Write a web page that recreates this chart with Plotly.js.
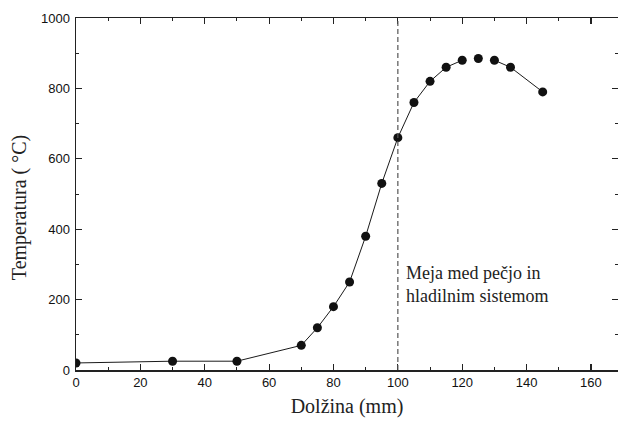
<!DOCTYPE html>
<html>
<head>
<meta charset="utf-8">
<script src="https://cdn.plot.ly/plotly-3.0.1.min.js"></script>
<style>html,body{margin:0;padding:0;background:#fff;}#chart{width:618px;height:421px;}</style>
</head>
<body>
<div id="chart"></div>
<script>
// Data
const lengthMm = [0, 30, 50, 70, 75, 80, 85, 90, 95, 100, 105, 110, 115, 120, 125, 130, 135, 145];
const temperatureC = [20, 25, 25, 70, 120, 180, 250, 380, 530, 660, 760, 820, 860, 880, 885, 880, 860, 790];
// Line drawn through the points, broken around the peak as in the reference
const lineTemperatureC = [20, 25, 25, 70, 120, 180, 250, 380, 530, 660, 760, 820, 860, 880, null, 880, 860, 790];
const boundaryX = 100;
const boundaryLabel = 'Meja med pečjo in<br>hladilnim sistemom';
const xTitle = 'Dolžina (mm)';
const yTitle = 'Temperatura ( °C)';

const serif = '"Liberation Serif", "Times New Roman", serif';
const sans = '"Liberation Sans", Arial, sans-serif';

const traces = [
  {
    x: lengthMm, y: lineTemperatureC, type: 'scatter', mode: 'lines',
    line: {color: '#1a1a1a', width: 1}, connectgaps: false, hoverinfo: 'skip'
  },
  {
    x: lengthMm, y: temperatureC, type: 'scatter', mode: 'markers',
    marker: {color: '#111', size: 9}
  }
];

const axisCommon = {
  showgrid: false, zeroline: false, showline: true, linecolor: '#222', linewidth: 1.5,
  ticks: 'inside', ticklen: 6, tickwidth: 1.2, tickcolor: '#222', mirror: 'ticks',
  tickfont: {family: sans, size: 13, color: '#111'}
};

const layout = {
  width: 618, height: 421,
  margin: {l: 76, r: 0, t: 18, b: 51},
  paper_bgcolor: '#fff', plot_bgcolor: '#fff',
  showlegend: false,
  xaxis: Object.assign({}, axisCommon, {
    range: [0, 168.4], tick0: 0, dtick: 20,
    minor: {ticks: 'inside', ticklen: 3, dtick: 10, tickcolor: '#222', tickwidth: 1},
    title: {text: xTitle, font: {family: serif, size: 20, color: '#222'}, standoff: 10}
  }),
  yaxis: Object.assign({}, axisCommon, {
    range: [0, 1000], tick0: 0, dtick: 200,
    minor: {ticks: 'inside', ticklen: 3, dtick: 100, tickcolor: '#222', tickwidth: 1},
    ticklabelstandoff: 2
  }),
  shapes: [{
    type: 'line', xref: 'x', yref: 'paper', x0: boundaryX, x1: boundaryX, y0: 0, y1: 1,
    line: {color: '#555', width: 1.2, dash: '5px,3px'}
  }],
  annotations: [
    {
      xref: 'x', yref: 'y', x: boundaryX + 2, y: 242, xanchor: 'left', yanchor: 'middle',
      text: boundaryLabel, showarrow: false, align: 'left',
      font: {family: serif, size: 18, color: '#222'}
    },
    {
      xref: 'paper', yref: 'paper', x: -0.105, y: 0.46, xanchor: 'center', yanchor: 'middle',
      text: yTitle, textangle: -90, showarrow: false,
      font: {family: serif, size: 20, color: '#222'}
    }
  ]
};

Plotly.newPlot('chart', traces, layout, {displayModeBar: false, staticPlot: true});
</script>
</body>
</html>
